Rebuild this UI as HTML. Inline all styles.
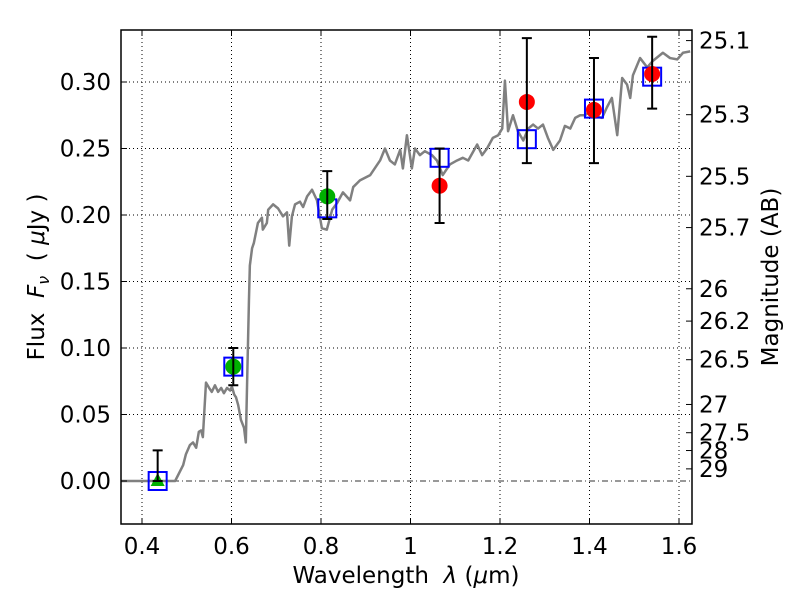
<!DOCTYPE html>
<html><head><meta charset="utf-8"><style>
body{margin:0;background:#fff;}
svg text{font-family:"DejaVu Sans","Liberation Sans",sans-serif;fill:#000;}
</style></head><body>
<svg id="chart" width="800" height="600" viewBox="0 0 800 600" xmlns="http://www.w3.org/2000/svg">
<rect x="0" y="0" width="800" height="600" fill="#fff"/>
<g id="grid"></g>
<g id="spec"></g>
<g id="marks"></g>
<g id="axes"></g>
<text x="406" y="583" font-size="23" text-anchor="middle">Wavelength&#160;&#160;<tspan font-style="italic">λ</tspan>&#160;(<tspan font-style="italic">μ</tspan>m)</text>
<text transform="translate(44,277) rotate(-90)" font-size="23" text-anchor="middle">Flux&#160;&#160;<tspan font-style="italic">F</tspan><tspan font-style="italic" font-size="16" dy="5">ν</tspan><tspan dy="-5">&#160;&#160;(&#160;</tspan><tspan font-style="italic">μ</tspan>Jy&#160;)</text>
<text transform="translate(778,277) rotate(-90)" font-size="23" text-anchor="middle">Magnitude (AB)</text>
</svg>
<script>
const xTicks=[0.4,0.6,0.8,1.0,1.2,1.4,1.6];
const xTickLabels=["0.4","0.6","0.8","1","1.2","1.4","1.6"];
const yTicks=[0,0.05,0.10,0.15,0.20,0.25,0.30];
const yTickLabels=["0.00","0.05","0.10","0.15","0.20","0.25","0.30"];
const magTicks=[25.1,25.3,25.5,25.7,26,26.2,26.5,27,27.5,28,29];
const magTickLabels=["25.1","25.3","25.5","25.7","26","26.2","26.5","27","27.5","28","29"];
const specWave=[0.353,0.474,0.492,0.498,0.507,0.514,0.521,0.527,0.532,0.536,0.543,0.550,0.556,0.563,0.570,0.577,0.583,0.590,0.597,0.601,0.606,0.610,0.615,0.621,0.628,0.632,0.635,0.639,0.641,0.646,0.650,0.659,0.668,0.670,0.679,0.682,0.693,0.704,0.715,0.724,0.729,0.735,0.742,0.753,0.760,0.769,0.780,0.791,0.802,0.813,0.825,0.836,0.849,0.865,0.872,0.887,0.910,0.932,0.943,0.954,0.965,0.977,0.983,0.992,1.003,1.010,1.021,1.032,1.048,1.059,1.072,1.088,1.104,1.117,1.129,1.149,1.160,1.171,1.184,1.196,1.205,1.211,1.218,1.229,1.240,1.252,1.263,1.274,1.285,1.296,1.307,1.319,1.334,1.345,1.357,1.368,1.379,1.390,1.401,1.417,1.428,1.439,1.450,1.462,1.473,1.484,1.491,1.497,1.513,1.529,1.542,1.564,1.580,1.596,1.609,1.625];
const specFlux=[0,0,0.012,0.020,0.027,0.029,0.025,0.037,0.038,0.033,0.074,0.070,0.067,0.072,0.067,0.070,0.066,0.070,0.068,0.071,0.065,0.063,0.057,0.046,0.040,0.029,0.076,0.136,0.162,0.175,0.179,0.194,0.198,0.189,0.194,0.204,0.208,0.205,0.199,0.202,0.177,0.199,0.208,0.210,0.206,0.214,0.219,0.211,0.190,0.189,0.204,0.209,0.217,0.211,0.221,0.226,0.230,0.241,0.250,0.241,0.238,0.249,0.235,0.260,0.235,0.250,0.245,0.248,0.245,0.241,0.230,0.238,0.241,0.243,0.241,0.253,0.245,0.250,0.258,0.260,0.265,0.301,0.263,0.275,0.263,0.256,0.265,0.268,0.265,0.268,0.258,0.249,0.256,0.267,0.265,0.273,0.275,0.275,0.278,0.274,0.273,0.281,0.288,0.260,0.303,0.298,0.288,0.305,0.318,0.311,0.316,0.322,0.318,0.317,0.322,0.323];
const obsWave=[0.435,0.604,0.814,1.065,1.260,1.410,1.540];
const obsFlux=[0.000,0.086,0.214,0.222,0.285,0.279,0.306];
const obsErrLo=[0.000,0.072,0.197,0.194,0.239,0.239,0.280];
const obsErrHi=[0.023,0.100,0.233,0.250,0.333,0.318,0.334];
const obsKind=["tri","green","green","red","red","red","red"];
const modelFlux=[0.000,0.086,0.205,0.243,0.257,0.280,0.304];

const L=121,R=692,T=30,B=524;
const X=v=>142+(v-0.4)*447.5;
const Y=f=>481-f*1330;
const magToFlux=m=>Math.pow(10,(23.9-m)/2.5);
const NS="http://www.w3.org/2000/svg";
function mk(tag,attrs,parent){const e=document.createElementNS(NS,tag);for(const k in attrs)e.setAttribute(k,attrs[k]);parent.appendChild(e);return e;}
const grid=document.getElementById('grid'),spec=document.getElementById('spec'),marks=document.getElementById('marks'),axes=document.getElementById('axes');

xTicks.forEach((v,i)=>{
  const g=mk('line',{x1:X(v),x2:X(v),y1:T,y2:B,stroke:'#000','stroke-width':1,'stroke-dasharray':'1,3'},grid);
  
  
  mk('line',{x1:X(v),x2:X(v),y1:B,y2:B-6,stroke:'#000'},axes);
  mk('line',{x1:X(v),x2:X(v),y1:T,y2:T+6,stroke:'#000'},axes);
  const t=mk('text',{x:X(v),y:B+30,'font-size':23,'text-anchor':'middle'},axes);
  t.textContent=xTickLabels[i];
  
  
});
yTicks.forEach((v,i)=>{
  if(v>0){const g=mk('line',{x1:L,x2:R,y1:Y(v),y2:Y(v),stroke:'#000','stroke-width':1,'stroke-dasharray':'1,3'},grid);
  
  }
  mk('line',{x1:L,x2:L+6,y1:Y(v),y2:Y(v),stroke:'#000'},axes);
  const t=mk('text',{x:L-10,y:Y(v)+8,'font-size':23,'text-anchor':'end'},axes);
  t.textContent=yTickLabels[i];
  
  
});
magTicks.forEach((m,i)=>{
  const y=Y(magToFlux(m));
  mk('line',{x1:R,x2:R-6,y1:y,y2:y,stroke:'#000'},axes);
  const t=mk('text',{x:R+7,y:y+8,'font-size':23},axes);
  t.textContent=magTickLabels[i];
  
  
});
const zl=mk('line',{x1:L,x2:R,y1:Y(0),y2:Y(0),stroke:'#333','stroke-width':1,'stroke-dasharray':'6,3,1,3'},grid);



const p=mk('polyline',{points:specWave.map((w,i)=>X(w)+','+Y(specFlux[i])).join(' '),fill:'none',stroke:'#808080','stroke-width':2.5,'stroke-linejoin':'round'},spec);



obsWave.forEach((w,i)=>{
  const x=X(w);
  const sq=mk('rect',{x:x-9,y:Y(modelFlux[i])-9,width:18,height:18,fill:'none',stroke:'#0000ff','stroke-width':2},marks);
  
  
  let m;
  if(obsKind[i]==='tri'){const y=Y(obsFlux[i]);m=mk('polygon',{points:`${x},${y-8} ${x-7},${y+5} ${x+7},${y+5}`,fill:'#00b000'},marks);}
  else m=mk('circle',{cx:x,cy:Y(obsFlux[i]),r:8,fill:obsKind[i]==='green'?'#00b000':'#ff0000'},marks);
  
  
  const eb=mk('path',{d:`M${x},${Y(obsErrLo[i])}V${Y(obsErrHi[i])}M${x-5},${Y(obsErrLo[i])}H${x+5}M${x-5},${Y(obsErrHi[i])}H${x+5}`,stroke:'#000','stroke-width':2,fill:'none'},marks);
  
  
});
const fr=mk('rect',{x:L,y:T,width:R-L,height:B-T,fill:'none',stroke:'#000','stroke-width':1.5},axes);


</script>
</body></html>
